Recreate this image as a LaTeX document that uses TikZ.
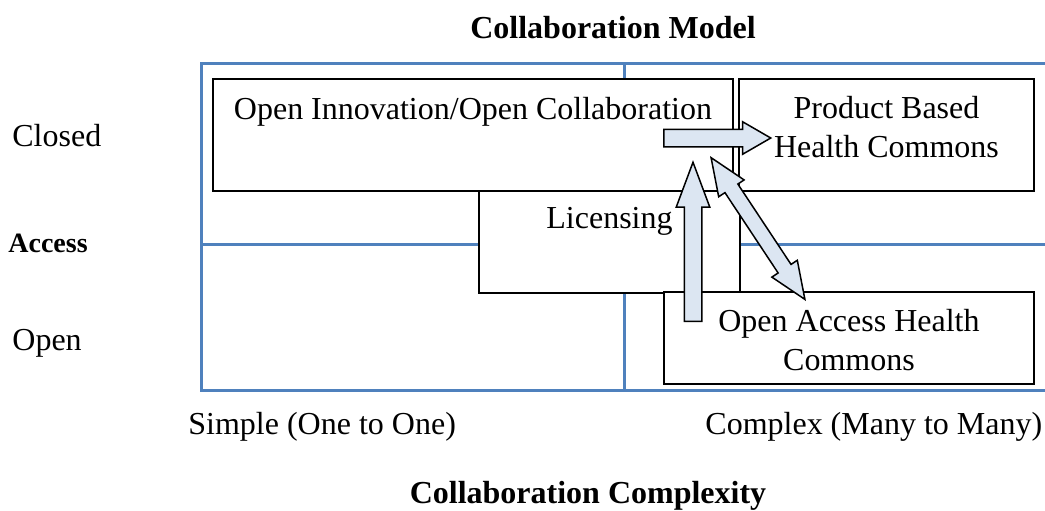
\documentclass[tikz,border=0pt]{standalone}
\usepackage{fontspec}
\setmainfont{Liberation Serif}
\usetikzlibrary{shapes.arrows}
\definecolor{gridblue}{RGB}{79,129,189}
\definecolor{arrowfill}{RGB}{220,230,242}
\begin{document}
\begin{tikzpicture}[x=0.5pt,y=-0.5pt,
  grid/.style={draw=gridblue, line width=1.5pt},
  box/.style={draw=black, fill=white, line width=1pt, inner sep=0pt, anchor=north west,
    font=\fontsize{16}{19.5}\selectfont},
  lbl/.style={anchor=base west, inner sep=0pt, font=\fontsize{16}{19}\selectfont},
  ttl/.style={anchor=base, inner sep=0pt, font=\fontsize{16}{19}\selectfont\bfseries},
  barrow/.style={draw=black, fill=arrowfill, line width=0.75pt, inner xsep=0pt, inner ysep=4pt}]
\useasboundingbox (0,0) rectangle (1045,510);
% grid
\coordinate (gTL) at (201,63);
\coordinate (gTR) at (1045,63);
\coordinate (gBL) at (201,390);
\coordinate (gBR) at (1045,390);
\coordinate (gML) at (201,244);
\coordinate (gMR) at (1045,244);
\coordinate (gMT) at (624,63);
\coordinate (gMB) at (624,390);
\draw[grid] (gTR) -- (gTL) -- (gBL) -- (gBR);
\draw[grid] (gML) -- (gMR);
\draw[grid] (gMT) -- (gMB);
% boxes
\node[box] (lic) at (478,190) {\parbox[c][51pt][t]{130.5pt}{\centering\rule{0pt}{18.5pt}Licensing}};
\node[box] (oi) at (212,78) {\parbox[c][56pt][t]{260pt}{\centering\rule{0pt}{20pt}Open Innovation/Open Collaboration}};
\node[box] (pb) at (738,78) {\parbox[c][56pt][t]{147.5pt}{\centering\rule{0pt}{19.5pt}Product Based\\Health Commons}};
\node[box] (oa) at (663,291) {\parbox[c][46pt][t]{185pt}{\centering\rule{0pt}{19.5pt}Open Access Health\\Commons}};
% arrows
\node[barrow, single arrow, single arrow tip angle=60, single arrow head extend=3.75pt,
  minimum height=53.5pt, anchor=tail] (arR) at (663,138) {};
\node[barrow, single arrow, single arrow tip angle=41, single arrow head extend=4pt,
  minimum height=79.5pt, rotate=90, anchor=tail] (arU) at (693,322) {};
\node[barrow, double arrow, inner ysep=3.5pt, double arrow tip angle=45, double arrow head extend=3.75pt,
  minimum height=85pt, rotate=-56.5, anchor=tip 2] (arD) at (710,156) {};
% labels
\node[ttl] (title) at (613,38) {Collaboration Model};
\node[lbl] (closed) at (12,146) {Closed};
\node[lbl, font=\fontsize{14}{17}\selectfont\bfseries] (access) at (8,252) {Access};
\node[lbl] (open) at (12,350) {Open};
\node[lbl] (simple) at (188,434) {Simple (One to One)};
\node[lbl] (complex) at (705,434) {Complex (Many to Many)};
\node[ttl] (xtitle) at (588,503) {Collaboration Complexity};
\end{tikzpicture}
\end{document}
